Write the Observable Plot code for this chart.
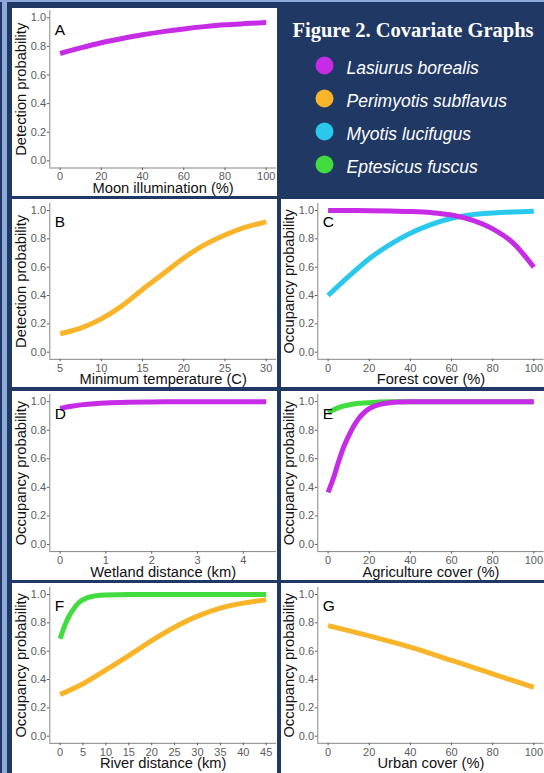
<!DOCTYPE html>
<html><head><meta charset="utf-8">
<script src="https://cdn.jsdelivr.net/npm/d3@7"></script>
<script src="https://cdn.jsdelivr.net/npm/@observablehq/plot@0.6"></script>
<style>
html,body{margin:0;padding:0;overflow:hidden;background:#203864;}
#fig{position:relative;width:544px;height:773px;overflow:hidden;background:#203864;}
.strip{position:absolute;background:#8eaadb;}
.panel{position:absolute;overflow:hidden;}
.panel svg{display:block;}
</style></head><body><div id="fig"></div>
<script>
// ---------- data ----------
const species = ["Lasiurus borealis", "Perimyotis subflavus", "Myotis lucifugus", "Eptesicus fuscus"];
const speciesColors = ["#c62be6", "#f9b42a", "#2bc8ee", "#42dc3e"];
const figureTitle = "Figure 2. Covariate Graphs";
const yTicks = [0, 0.2, 0.4, 0.6, 0.8, 1.0];

// A: moon illumination
const moonX = [0, 10, 20, 30, 40, 50, 60, 70, 80, 90, 100];
const moonLasiurus = [0.75, 0.789, 0.825, 0.855, 0.881, 0.903, 0.922, 0.938, 0.951, 0.959, 0.966];
const moonTicks = [0, 20, 40, 60, 80, 100];

// B: minimum temperature
const tempX = [5, 7.5, 10, 12.5, 15, 17.5, 20, 22.5, 25, 27.5, 30];
const tempPerimyotis = [0.13, 0.17, 0.235, 0.327, 0.443, 0.553, 0.665, 0.757, 0.827, 0.882, 0.92];
const tempTicks = [5, 10, 15, 20, 25, 30];

// C: forest cover
const forestX = [0, 10, 20, 30, 40, 50, 60, 70, 80, 90, 100];
const forestMyotis = [0.40, 0.535, 0.66, 0.76, 0.84, 0.90, 0.945, 0.97, 0.982, 0.99, 0.995];
const forestLasiurus = [1.0, 1.0, 0.999, 0.997, 0.993, 0.985, 0.968, 0.932, 0.87, 0.77, 0.60];
const forestTicks = [0, 20, 40, 60, 80, 100];

// D: wetland distance
const wetX = [0, 0.25, 0.5, 0.75, 1, 1.5, 2, 2.5, 3, 3.5, 4, 4.5];
const wetLasiurus = [0.953, 0.968, 0.979, 0.986, 0.991, 0.996, 0.998, 0.999, 1, 1, 1, 1];
const wetTicks = [0, 1, 2, 3, 4];

// E: agriculture cover
const agriX = [0, 2.5, 5, 7.5, 10, 12.5, 15, 17.5, 20, 25, 30, 40, 50, 60, 70, 80, 90, 100];
const agriEptesicus = [0.923, 0.942, 0.958, 0.969, 0.977, 0.983, 0.988, 0.991, 0.993, 0.997, 0.999, 1, 1, 1, 1, 1, 1, 1];
const agriLasiurus = [0.365, 0.46, 0.575, 0.68, 0.76, 0.83, 0.884, 0.923, 0.951, 0.981, 0.993, 0.999, 1, 1, 1, 1, 1, 1];
const agriTicks = [0, 20, 40, 60, 80, 100];

// F: river distance
const riverXEptesicus = [0, 1, 2, 3, 4, 5, 6, 8, 10, 15, 20, 25, 30, 35, 40, 45];
const riverEptesicus = [0.687, 0.78, 0.85, 0.9, 0.94, 0.963, 0.978, 0.992, 0.997, 1, 1, 1, 1, 1, 1, 1];
const riverXPerimyotis = [0, 5, 10, 15, 20, 25, 30, 35, 40, 45];
const riverPerimyotis = [0.294, 0.37, 0.468, 0.569, 0.675, 0.769, 0.847, 0.904, 0.939, 0.962];
const riverTicks = [0, 5, 10, 15, 20, 25, 30, 35, 40, 45];

// G: urban cover
const urbanX = [0, 10, 20, 30, 40, 50, 60, 70, 80, 90, 100];
const urbanPerimyotis = [0.78, 0.745, 0.708, 0.669, 0.628, 0.583, 0.535, 0.488, 0.44, 0.392, 0.345];
const urbanTicks = [0, 20, 40, 60, 80, 100];

// ---------- layout ----------
const fig = document.getElementById("fig");
const FONT = "Liberation Sans, Arial, Helvetica, sans-serif";
const colL = {left: 12, width: 265, ml: 37.3, mr: 1};
const colR = {left: 281, width: 263, ml: 36.3, mr: 0.4};
const rowA = {top: 8, height: 188, mt: 2.1, mb: 28.5};
const rowB = {top: 199, height: 188, mt: 3.9, mb: 28.2};
const rowD = {top: 391, height: 189, mt: 3, mb: 28.9};
const rowF = {top: 583, height: 190, mt: 3.9, mb: 30.2};

function addStrip(l, t, w, h) {
  const d = document.createElement("div");
  d.className = "strip";
  Object.assign(d.style, {left: l + "px", top: t + "px", width: w + "px", height: h + "px"});
  fig.appendChild(d);
}
addStrip(0, 0, 544, 2);
addStrip(2, 0, 5, 773);

function expand([a, b]) { const e = (b - a) * 0.05; return [a - e, b + e]; }
function ser(name, xs, ys) { return xs.map((x, i) => ({x, y: ys[i], species: name})); }

function addPanel(col, row, cfg) {
  const rows = cfg.series.flat();
  const xd = expand(d3.extent(rows, d => d.x));
  const yd = expand([0, 1]);
  const plot = Plot.plot({
    width: col.width, height: row.height,
    marginLeft: col.ml, marginRight: col.mr, marginTop: row.mt, marginBottom: row.mb,
    style: {fontFamily: FONT, fontSize: "11px", color: "#5c5c5c", background: "#ffffff"},
    x: {domain: xd, axis: null},
    y: {domain: yd, axis: null},
    color: {domain: species, range: speciesColors},
    marks: [
      Plot.ruleX([xd[0]], {stroke: "#858585", strokeWidth: 1}),
      Plot.ruleY([yd[0]], {stroke: "#858585", strokeWidth: 1}),
      Plot.axisX({ticks: cfg.ticks, tickSize: 2.5, tickPadding: 2, label: null, fontSize: 11, tickFormat: d => String(d)}),
      Plot.axisY({ticks: yTicks, tickSize: 2.5, tickPadding: 1.2, label: null, fontSize: 11, tickFormat: d3.format(".1f")}),
      Plot.line(rows, {x: "x", y: "y", z: "species", stroke: "species", strokeWidth: 5, curve: "monotone-x", strokeLinecap: "butt"}),
      Plot.text([cfg.letter], {frameAnchor: "top-left", dx: 5, dy: 24, textAnchor: "start", lineAnchor: "bottom", fontSize: 15.5, fill: "#000"}),
      Plot.text([cfg.xLabel], {frameAnchor: "bottom", dy: 25, textAnchor: "middle", lineAnchor: "bottom", fontSize: 14.7, fill: "#111"}),
      Plot.text([cfg.yLabel], {frameAnchor: "left", dx: -24, rotate: -90, textAnchor: "middle", lineAnchor: "bottom", fontSize: 14.7, fill: "#111"})
    ]
  });
  const d = document.createElement("div");
  d.className = "panel";
  Object.assign(d.style, {left: col.left + "px", top: row.top + "px", width: col.width + "px", height: row.height + "px"});
  d.appendChild(plot);
  fig.appendChild(d);
}

addPanel(colL, rowA, {letter: "A", xLabel: "Moon illumination (%)", yLabel: "Detection probability", ticks: moonTicks,
  series: [ser(species[0], moonX, moonLasiurus)]});
addPanel(colL, rowB, {letter: "B", xLabel: "Minimum temperature (C)", yLabel: "Detection probability", ticks: tempTicks,
  series: [ser(species[1], tempX, tempPerimyotis)]});
addPanel(colR, rowB, {letter: "C", xLabel: "Forest cover (%)", yLabel: "Occupancy probability", ticks: forestTicks,
  series: [ser(species[2], forestX, forestMyotis), ser(species[0], forestX, forestLasiurus)]});
addPanel(colL, rowD, {letter: "D", xLabel: "Wetland distance (km)", yLabel: "Occupancy probability", ticks: wetTicks,
  series: [ser(species[0], wetX, wetLasiurus)]});
addPanel(colR, rowD, {letter: "E", xLabel: "Agriculture cover (%)", yLabel: "Occupancy probability", ticks: agriTicks,
  series: [ser(species[3], agriX, agriEptesicus), ser(species[0], agriX, agriLasiurus)]});
addPanel(colL, rowF, {letter: "F", xLabel: "River distance (km)", yLabel: "Occupancy probability", ticks: riverTicks,
  series: [ser(species[1], riverXPerimyotis, riverPerimyotis), ser(species[3], riverXEptesicus, riverEptesicus)]});
addPanel(colR, rowF, {letter: "G", xLabel: "Urban cover (%)", yLabel: "Occupancy probability", ticks: urbanTicks,
  series: [ser(species[1], urbanX, urbanPerimyotis)]});

// legend / title box
const legend = Plot.plot({
  width: colR.width, height: rowA.height, margin: 0,
  style: {fontFamily: FONT, background: "#203864"},
  x: {domain: [0, 1], axis: null},
  y: {type: "point", domain: species, range: [57.3, 156.3], padding: 0, axis: null},
  color: {domain: species, range: speciesColors},
  marks: [
    Plot.text([figureTitle], {frameAnchor: "top", dy: 28.7, textAnchor: "middle", lineAnchor: "bottom", fontFamily: "Liberation Serif, Times New Roman, serif", fontWeight: "bold", fontSize: 20.5, fill: "#ffffff"}),
    Plot.dot(species, {y: d => d, fill: d => d, r: 9, frameAnchor: "left", dx: 43}),
    Plot.text(species, {y: d => d, text: d => d, frameAnchor: "left", dx: 65, dy: 8.7, textAnchor: "start", lineAnchor: "bottom", fontStyle: "italic", fontSize: 17.5, fill: "#ffffff"})
  ]
});
const ld = document.createElement("div");
ld.className = "panel";
Object.assign(ld.style, {left: colR.left + "px", top: rowA.top + "px", width: colR.width + "px", height: rowA.height + "px"});
ld.appendChild(legend);
fig.appendChild(ld);
</script>
</body></html>
